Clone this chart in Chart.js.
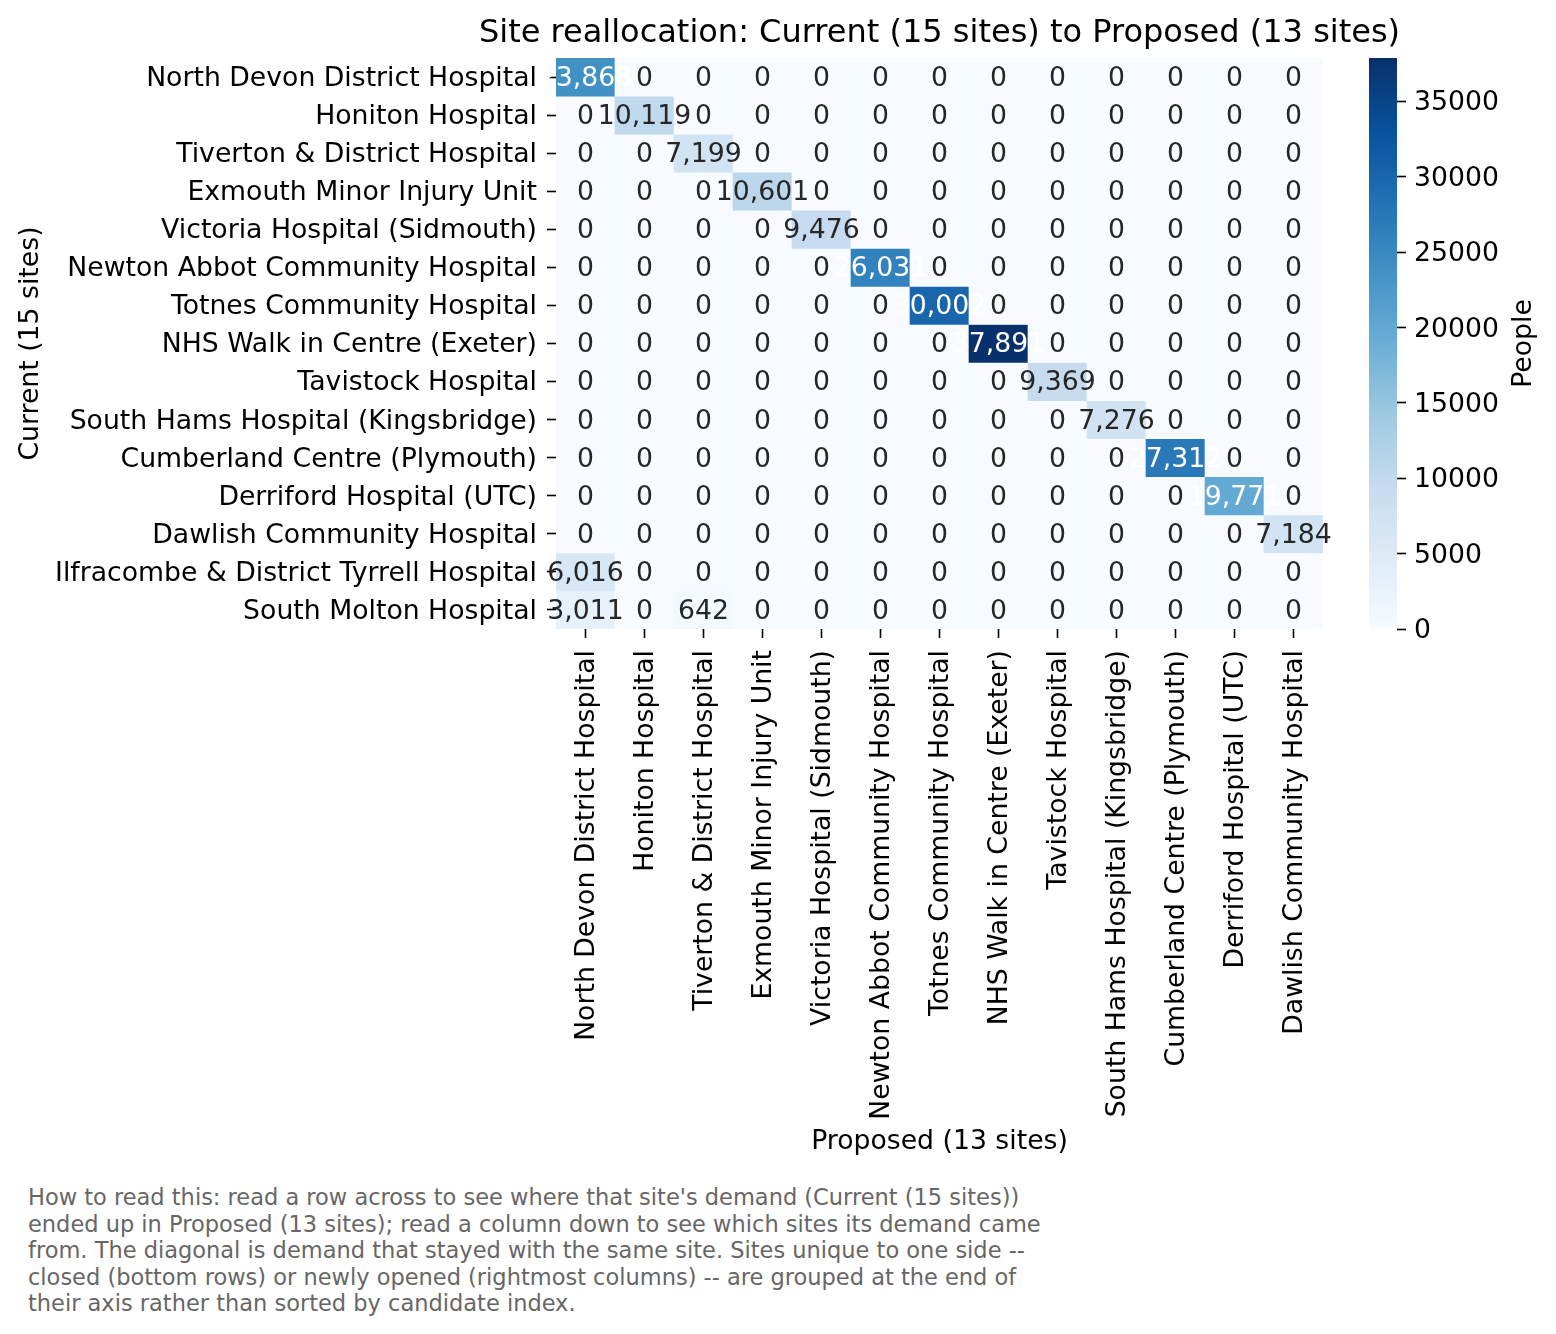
<!DOCTYPE html>
<html>
<head>
<meta charset="utf-8">
<script src="https://cdn.jsdelivr.net/npm/chart.js@4.4.1/dist/chart.umd.min.js"></script>
<style>
  body { margin: 0; background: #fff; width: 1556px; height: 1334px; position: relative; overflow: hidden; font-family: "DejaVu Sans"; }
  #heat { position: absolute; left: 0; top: 0; }
  #cbar { position: absolute; left: 1340px; top: 0; }
  #note { position: absolute; left: 28px; top: 1184px; font-size: 22.5px; line-height: 26.5px; color: #666; white-space: pre; }
</style>
</head>
<body>
<canvas id="heat" width="1556" height="1170"></canvas>
<canvas id="cbar" width="216" height="700"></canvas>
<div id="note">How to read this: read a row across to see where that site's demand (Current (15 sites))
ended up in Proposed (13 sites); read a column down to see which sites its demand came
from. The diagonal is demand that stayed with the same site. Sites unique to one side --
closed (bottom rows) or newly opened (rightmost columns) -- are grouped at the end of
their axis rather than sorted by candidate index.</div>
<script>
// current sites (rows)
let rowSites = ['North Devon District Hospital', 'Honiton Hospital', 'Tiverton & District Hospital',
  'Exmouth Minor Injury Unit', 'Victoria Hospital (Sidmouth)', 'Newton Abbot Community Hospital',
  'Totnes Community Hospital', 'NHS Walk in Centre (Exeter)', 'Tavistock Hospital',
  'South Hams Hospital (Kingsbridge)', 'Cumberland Centre (Plymouth)', 'Derriford Hospital (UTC)',
  'Dawlish Community Hospital', 'Ilfracombe & District Tyrrell Hospital', 'South Molton Hospital'];

// proposed sites (columns)
let colSites = ['North Devon District Hospital', 'Honiton Hospital', 'Tiverton & District Hospital',
  'Exmouth Minor Injury Unit', 'Victoria Hospital (Sidmouth)', 'Newton Abbot Community Hospital',
  'Totnes Community Hospital', 'NHS Walk in Centre (Exeter)', 'Tavistock Hospital',
  'South Hams Hospital (Kingsbridge)', 'Cumberland Centre (Plymouth)', 'Derriford Hospital (UTC)',
  'Dawlish Community Hospital'];

// people moved, one row per current site
let people = [
  [23868, 0, 0, 0, 0, 0, 0, 0, 0, 0, 0, 0, 0],
  [0, 10119, 0, 0, 0, 0, 0, 0, 0, 0, 0, 0, 0],
  [0, 0, 7199, 0, 0, 0, 0, 0, 0, 0, 0, 0, 0],
  [0, 0, 0, 10601, 0, 0, 0, 0, 0, 0, 0, 0, 0],
  [0, 0, 0, 0, 9476, 0, 0, 0, 0, 0, 0, 0, 0],
  [0, 0, 0, 0, 0, 26031, 0, 0, 0, 0, 0, 0, 0],
  [0, 0, 0, 0, 0, 0, 30002, 0, 0, 0, 0, 0, 0],
  [0, 0, 0, 0, 0, 0, 0, 37891, 0, 0, 0, 0, 0],
  [0, 0, 0, 0, 0, 0, 0, 0, 9369, 0, 0, 0, 0],
  [0, 0, 0, 0, 0, 0, 0, 0, 0, 7276, 0, 0, 0],
  [0, 0, 0, 0, 0, 0, 0, 0, 0, 0, 27312, 0, 0],
  [0, 0, 0, 0, 0, 0, 0, 0, 0, 0, 0, 19771, 0],
  [0, 0, 0, 0, 0, 0, 0, 0, 0, 0, 0, 0, 7184],
  [6016, 0, 0, 0, 0, 0, 0, 0, 0, 0, 0, 0, 0],
  [3011, 0, 642, 0, 0, 0, 0, 0, 0, 0, 0, 0, 0]
];

let cbTicks = [0, 5000, 10000, 15000, 20000, 25000, 30000, 35000];

let chartTitle = 'Site reallocation: Current (15 sites) to Proposed (13 sites)';

Chart.defaults.font.family = '"DejaVu Sans"';
Chart.defaults.color = '#000';

// matplotlib "Blues"
let blues = ['#f7fbff', '#deebf7', '#c6dbef', '#9ecae1', '#6baed6', '#4292c6', '#2171b5', '#08519c', '#08306b'];
let bluesRgb = blues.map(h => [1, 3, 5].map(k => parseInt(h.substr(k, 2), 16)));

function blue(t) {
  t = Math.max(0, Math.min(1, t));
  let p = t * 8;
  let i = Math.min(7, Math.floor(p));
  let f = p - i;
  return bluesRgb[i].map((c, k) => Math.round(c + (bluesRgb[i + 1][k] - c) * f));
}
function rgbStr(c) { return 'rgb(' + c.join(',') + ')'; }
function luminance(c) {
  let l = c.map(v => { v /= 255; return v <= 0.03928 ? v / 12.92 : Math.pow((v + 0.055) / 1.055, 2.4); });
  return 0.2126 * l[0] + 0.7152 * l[1] + 0.0722 * l[2];
}

let vmax = Math.max(...people.flat());

let tickGrid = { drawOnChartArea: false, drawTicks: true, tickLength: 9, tickColor: '#000', tickWidth: 1.6 };

// numbers in the cells + title
let cellText = {
  id: 'cellText',
  afterDatasetsDraw(chart) {
    let ctx = chart.ctx;
    ctx.save();
    ctx.font = '26.7px "DejaVu Sans"';
    ctx.textAlign = 'center';
    ctx.textBaseline = 'middle';
    people.forEach((row, i) => {
      let meta = chart.getDatasetMeta(i);
      row.forEach((v, j) => {
        let p = meta.data[j].getCenterPoint();
        ctx.fillStyle = luminance(blue(v / vmax)) > 0.408 ? '#262626' : '#ffffff';
        ctx.fillText(v.toLocaleString('en-US'), p.x, p.y + 2);
      });
    });
    let a = chart.chartArea;
    ctx.fillStyle = '#000';
    ctx.font = '32px "DejaVu Sans"';
    ctx.fillText(chartTitle, (a.left + a.right) / 2, 34);
    ctx.restore();
  }
};

let heat = new Chart(document.getElementById('heat'), {
  type: 'bar',
  data: {
    labels: colSites,
    datasets: rowSites.map((name, i) => ({
      label: name,
      data: colSites.map(() => [i - 0.5, i + 0.5]),
      backgroundColor: people[i].map(v => rgbStr(blue(v / vmax))),
      borderWidth: 0,
      grouped: false,
      barPercentage: 1,
      categoryPercentage: 1
    }))
  },
  options: {
    responsive: false,
    animation: false,
    events: [],
    layout: { padding: { left: 11, top: 58, right: 233, bottom: 8 } },
    plugins: { legend: { display: false }, tooltip: { enabled: false } },
    scales: {
      x: {
        grid: Object.assign({ offset: false }, tickGrid),
        border: { display: false },
        ticks: { autoSkip: false, minRotation: 90, maxRotation: 90, padding: 12, labelOffset: 2, font: { size: 26.7 } },
        title: { display: true, text: 'Proposed (13 sites)', font: { size: 26.7 } },
        afterFit: s => { s.height = 533; }
      },
      y: {
        reverse: true,
        min: -0.5,
        max: 14.5,
        grid: tickGrid,
        border: { display: false },
        afterBuildTicks: s => { s.ticks = rowSites.map((n, i) => ({ value: i })); },
        ticks: { autoSkip: false, padding: 10, labelOffset: 2, font: { size: 26.7 }, callback: v => rowSites[v] },
        title: { display: true, text: 'Current (15 sites)', font: { size: 26.7 } },
        afterFit: s => { s.width = 545; }
      }
    }
  },
  plugins: [cellText]
});

// colorbar
function barGradient(chart) {
  let a = chart.chartArea;
  if (!a) return blues[0];
  let g = chart.ctx.createLinearGradient(0, a.bottom, 0, a.top);
  blues.forEach((c, i) => g.addColorStop(i / 8, c));
  return g;
}

let peopleLabel = {
  id: 'peopleLabel',
  afterDraw(chart) {
    let a = chart.chartArea;
    let ctx = chart.ctx;
    ctx.save();
    ctx.translate(184, (a.top + a.bottom) / 2);
    ctx.rotate(-Math.PI / 2);
    ctx.font = '26.7px "DejaVu Sans"';
    ctx.fillStyle = '#000';
    ctx.textAlign = 'center';
    ctx.textBaseline = 'middle';
    ctx.fillText('People', 0, 0);
    ctx.restore();
  }
};

let cbar = new Chart(document.getElementById('cbar'), {
  type: 'bar',
  data: {
    labels: ['People'],
    datasets: [{
      data: [[0, vmax]],
      backgroundColor: c => barGradient(c.chart),
      borderWidth: 0,
      barPercentage: 1,
      categoryPercentage: 1
    }]
  },
  options: {
    responsive: false,
    animation: false,
    events: [],
    layout: { padding: { left: 29, top: 58, right: 0, bottom: 71 } },
    plugins: { legend: { display: false }, tooltip: { enabled: false } },
    scales: {
      x: { display: false },
      y: {
        position: 'right',
        min: 0,
        max: vmax,
        grid: tickGrid,
        border: { display: false },
        afterBuildTicks: s => { s.ticks = cbTicks.map(v => ({ value: v })); },
        ticks: { padding: 8, labelOffset: 2, font: { size: 26.7 }, callback: v => String(v) },
        afterFit: s => { s.width = 159; }
      }
    }
  },
  plugins: [peopleLabel]
});
</script>
</body>
</html>
